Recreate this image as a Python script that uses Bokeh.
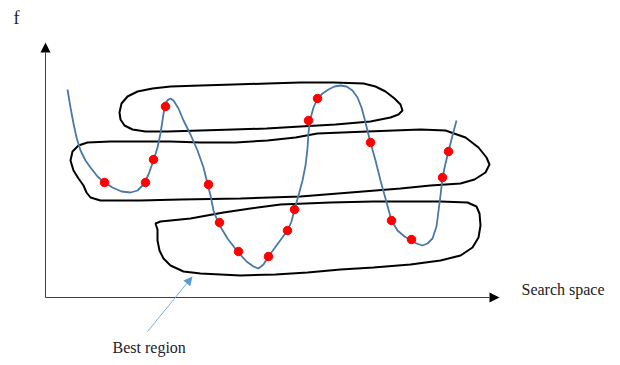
from bokeh.plotting import figure
from bokeh.models import Range1d, Arrow, NormalHead, Label
from bokeh.embed import file_html
from bokeh.resources import INLINE

# Sampled objective curve (diagram coordinates, y grows downward)
curve_x = [67, 70, 73, 76, 80, 85, 90, 97, 104, 112, 121, 130, 137, 143, 148, 153, 157, 160, 162, 164,
           166, 168, 170, 173, 178, 183, 190, 197, 203, 207, 210, 213, 218, 227, 237, 246, 253, 258, 263,
           268, 276, 287, 291, 294, 298, 302, 305, 307, 308, 310, 313, 317, 322, 328, 334, 340, 346, 352,
           357, 361, 364, 367, 370, 375, 380, 385, 391, 397, 404, 411, 416, 422, 427, 432, 436, 440, 442,
           445, 448, 452, 456]
curve_y = [89, 107, 123, 137, 150, 160, 167, 176, 182, 187, 191, 192, 190, 184, 174, 160, 147, 133, 120, 107,
           101, 99, 98, 100, 108, 120, 134, 150, 167, 183, 195, 210, 223, 238, 251, 261, 266, 268, 264,
           256, 245, 230, 221, 209, 195, 180, 165, 148, 132, 118, 107, 98, 93, 89, 86, 85, 86, 90,
           97, 107, 118, 130, 142, 160, 180, 198, 220, 230, 236, 240, 243, 245, 243, 238, 226, 195, 177,
           163, 151, 135, 120]

# Sample points (red dots)
pts_x = [104, 145, 153, 165, 208, 219, 238, 268, 287, 294, 308, 317, 370, 391, 411, 442, 448]
pts_y = [182, 182, 159, 106, 184, 222, 251, 256, 230, 209, 120, 98, 142, 220, 239, 177, 151]

# Region outlines
regionA_x = [119, 121, 127, 137, 152, 170, 200, 233, 267, 300, 333, 363, 375, 385, 394, 400, 402, 398, 390,
             370, 335, 300, 266, 233, 200, 167, 145, 132, 124, 120]
regionA_y = [112, 103, 96, 91, 88, 86, 85, 84, 83, 82, 82, 83, 86, 91, 98, 104, 110, 114, 117,
             121, 124, 126, 128, 129, 130, 131, 131, 129, 125, 119]

regionB_x = [87, 110, 140, 170, 200, 235, 267, 295, 317, 367, 420, 445, 465, 478, 486, 489, 485, 474, 460,
             430, 400, 350, 300, 240, 180, 140, 100, 90, 86, 83, 78, 73, 70, 72, 78]
regionB_y = [142, 141, 141, 141, 142, 142, 140, 137, 133, 131, 129, 130, 137, 147, 157, 164, 172, 179, 183,
             185, 188, 192, 196, 198, 199, 200, 200, 197, 192, 185, 178, 170, 160, 151, 145]

regionC_x = [155, 157, 157, 159, 163, 170, 183, 200, 240, 275, 307, 340, 373, 410, 440, 460, 472, 478, 480,
             479, 476, 467, 440, 400, 373, 330, 280, 250, 223, 190, 160]
regionC_y = [223, 229, 240, 250, 258, 265, 271, 273, 275, 274, 272, 269, 267, 264, 260, 255, 247, 237, 225,
             213, 206, 202, 201, 201, 201, 202, 204, 208, 212, 218, 221]

# Axes and annotation geometry
axis_origin = (45, 297)
axis_y_top = 42
axis_x_right = 499
best_arrow = (147, 331, 192, 276)

p = figure(width=612, height=357, x_range=Range1d(0, 612), y_range=Range1d(357, 0),
           output_backend="svg", toolbar_location=None, min_border=0)
p.axis.visible = False
p.grid.visible = False
p.outline_line_color = None
p.background_fill_color = "white"

# axes
p.add_layout(Arrow(end=NormalHead(size=10, fill_color="black", line_color="black", line_width=0),
                   x_start=axis_origin[0], y_start=axis_origin[1], x_end=axis_origin[0], y_end=axis_y_top,
                   line_color="#404040", line_width=1))
p.add_layout(Arrow(end=NormalHead(size=10, fill_color="black", line_color="black", line_width=0),
                   x_start=axis_origin[0], y_start=axis_origin[1], x_end=axis_x_right, y_end=axis_origin[1],
                   line_color="#404040", line_width=1))

# regions
for rx, ry in [(regionA_x, regionA_y), (regionB_x, regionB_y), (regionC_x, regionC_y)]:
    p.patch(rx, ry, fill_alpha=0, line_color="black", line_width=2)

# curve
p.line(curve_x, curve_y, line_color="#4a79a5", line_width=1.8)

# points
p.scatter(pts_x, pts_y, size=8.5, fill_color="#ff0000", line_color="#ff0000")

# best region arrow
p.add_layout(Arrow(end=NormalHead(size=9, fill_color="#5b9bd5", line_color="#5b9bd5", line_width=0),
                   x_start=best_arrow[0], y_start=best_arrow[1], x_end=best_arrow[2], y_end=best_arrow[3],
                   line_color="#7aaede", line_width=1))

font = "Liberation Serif"
p.add_layout(Label(x=13, y=17, text="f", text_font=font, text_font_size="18px",
                   text_color="#222222", text_baseline="alphabetic"))
p.add_layout(Label(x=521, y=289, text="Search space", text_font=font, text_font_size="16px",
                   text_color="#222222", text_baseline="alphabetic"))
p.add_layout(Label(x=112, y=347, text="Best region", text_font=font, text_font_size="16px",
                   text_color="#222222", text_baseline="alphabetic"))

open("out.html", "w").write(file_html(p, INLINE))
